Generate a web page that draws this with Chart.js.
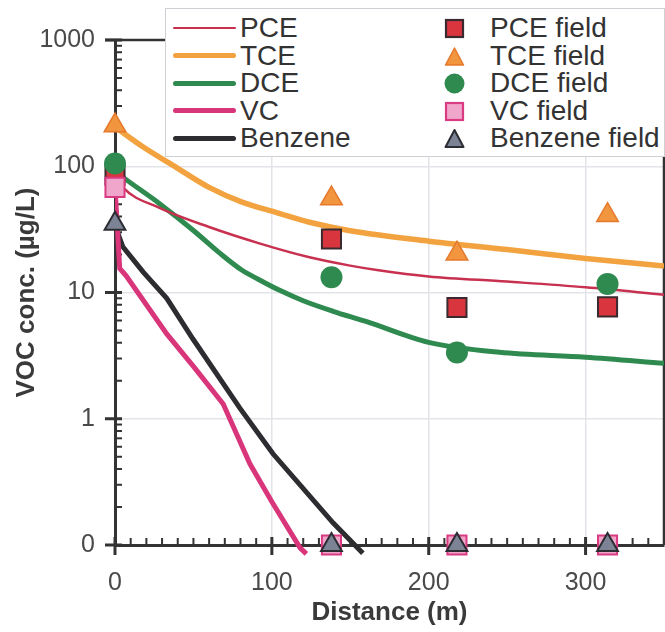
<!DOCTYPE html>
<html>
<head>
<meta charset="utf-8">
<script src="https://cdn.jsdelivr.net/npm/chart.js@4.4.1/dist/chart.umd.min.js"></script>
<style>
  html, body { margin: 0; padding: 0; background: #fff; }
  #wrap { position: relative; width: 665px; height: 632px; }
  #legend {
    position: absolute; left: 165px; top: 8px; width: 500px; height: 149px;
    box-sizing: border-box; background: #fff; border: 1.5px solid #cfcfd6;
    font-family: "Liberation Sans", Arial, sans-serif; font-size: 28px; color: #333;
  }
  .item { position: absolute; height: 28px; line-height: 28px; white-space: nowrap; }
  .swatch { position: absolute; left: 7px; width: 63px; border-radius: 3px; }
</style>
</head>
<body>
<div id="wrap">
  <canvas id="chart" width="665" height="632"></canvas>
  <div id="legend"></div>
</div>
<script>
// Axis ticks (0 on the log axis is drawn at the bottom decade, 0.1)
const yTicks = [0.1, 1, 10, 100, 1000];
const xTicks = [0, 100, 200, 300];

// Field samples (0 = not detected)
const fieldDist = [0, 138, 218, 314];
const pceField = [85, 26.5, 7.6, 7.7];
const tceField = [210, 55.5, 20.3, 41];
const dceField = [105, 13.2, 3.35, 11.7];
const vcField = [68, 0, 0, 0];
const benzField = [35, 0, 0, 0];

// Model curves
const pceDist = [0, 5, 28, 60, 92, 124, 149, 168, 200, 250, 300, 350];
const pceModel = [85, 68, 47, 33, 24.5, 19, 16.4, 15, 13.4, 12.2, 11, 9.6];
const tceDist = [0, 18, 39, 60, 81, 103, 124, 149, 200, 250, 300, 350];
const tceModel = [205, 142, 98, 68, 52, 43, 36, 31, 25.5, 21.9, 18.6, 16.2];
const dceDist = [0, 5, 28, 50, 67, 81, 90, 105, 120, 139, 160, 200, 245, 300, 350];
const dceModel = [92, 82, 51, 31, 20.4, 15, 13, 10.4, 8.6, 7.1, 5.9, 4.03, 3.36, 3.07, 2.75];
const vcDist = [0, 3, 7, 33, 50, 69, 86, 100, 118, 122];
const vcModel = [68, 15.5, 13.6, 4.7, 2.6, 1.31, 0.44, 0.22, 0.095, 0.085];
const benzDist = [0, 5, 18, 33, 49.6, 79.5, 100.6, 139, 158];
const benzModel = [34, 23, 14.5, 9, 4.3, 1.22, 0.53, 0.15, 0.086];

const yMin = yTicks[0], yMax = yTicks[yTicks.length - 1];
const pts = (xs, ys) => xs.map((x, i) => ({ x: x, y: ys[i] === 0 ? yMin : ys[i] }));

const FONT = '"Liberation Sans", Arial, sans-serif';

function lineSet(label, xs, ys, color, width, smooth) {
  return {
    label: label, data: pts(xs, ys), showLine: true, borderColor: color,
    borderWidth: width, pointRadius: 0, order: 1,
    cubicInterpolationMode: smooth ? 'monotone' : 'default',
    clip: { left: 0, top: 0, right: 0, bottom: 15 }
  };
}
function fieldSet(label, ys, style, fill, stroke, radius, bw) {
  return {
    label: label, data: pts(fieldDist, ys), pointStyle: style,
    backgroundColor: fill, borderColor: stroke, pointRadius: radius,
    pointBorderWidth: bw, showLine: false, order: 0, clip: false
  };
}

const datasets = [
  fieldSet('DCE field', dceField, 'circle', '#2f8a50', '#2f8a50', 11, 0),
  fieldSet('TCE field', tceField, 'triangle', '#f1963f', '#e5792c', 12.5, 1.5),
  fieldSet('Benzene field', benzField, 'triangle', '#7b8394', '#2c2c33', 12, 2),
  fieldSet('VC field', vcField, 'rect', '#f0a6cb', '#da3a82', 13.5, 2),
  fieldSet('PCE field', pceField, 'rect', '#d8353f', '#3a2a2f', 13.5, 2),
  lineSet('PCE', pceDist, pceModel, '#c8304f', 2.5, true),
  lineSet('TCE', tceDist, tceModel, '#f2a33f', 5.5, true),
  lineSet('DCE', dceDist, dceModel, '#2e8a4f', 5, true),
  lineSet('VC', vcDist, vcModel, '#d8357a', 5, false),
  lineSet('Benzene', benzDist, benzModel, '#2d2d31', 5, false)
];

// axis frame, top/right border and inside minor ticks
const framePlugin = {
  id: 'frame',
  beforeDatasetsDraw(chart) {
    const { ctx, chartArea: a, scales: { x, y } } = chart;
    const seg = (x1, y1, x2, y2) => { ctx.beginPath(); ctx.moveTo(x1, y1); ctx.lineTo(x2, y2); ctx.stroke(); };
    ctx.save();
    ctx.strokeStyle = '#333';
    ctx.lineWidth = 2.5;
    seg(a.left - 10, a.top, a.right, a.top);
    seg(a.right, a.top, a.right, a.bottom);
    ctx.lineWidth = 3;
    yTicks.forEach(v => { const p = y.getPixelForValue(v); seg(a.left - 10, p, a.left + 7, p); });
    xTicks.forEach(v => { const p = x.getPixelForValue(v); seg(p, a.bottom - 8, p, a.bottom + 10); });
    ctx.lineWidth = 2;
    for (let d = yMin; d < yMax * 0.99; d *= 10) {
      for (let m = 2; m <= 9; m++) { const p = y.getPixelForValue(d * m); seg(a.left, p, a.left + 7, p); }
    }
    for (let v = 10; v < x.max; v += 10) {
      if (v % 100 === 0) continue;
      const p = x.getPixelForValue(v); seg(p, a.bottom, p, a.bottom - 7);
    }
    ctx.restore();
  }
};

const chart = new Chart(document.getElementById('chart'), {
  type: 'scatter',
  data: { datasets: datasets },
  options: {
    responsive: false,
    animation: false,
    layout: { autoPadding: false, padding: { top: 40, right: 1, left: 0, bottom: 0 } },
    plugins: { legend: { display: false }, tooltip: { enabled: false } },
    scales: {
      x: {
        type: 'linear', min: 0, max: 350,
        afterBuildTicks: s => { s.ticks = xTicks.map(v => ({ value: v })); },
        afterFit: s => { s.height = 87; s.paddingLeft = 0; s.paddingRight = 0; },
        grid: { color: ctx => ctx.tick && ctx.tick.value === 0 ? 'rgba(0,0,0,0)' : '#e3e3ea', lineWidth: 1.5, drawTicks: false },
        border: { color: '#333', width: 3 },
        ticks: { padding: 23, color: '#4a4a4a', font: { family: FONT, size: 25 } },
        title: { display: true, text: 'Distance (m)', color: '#3a3a3a',
          font: { family: FONT, size: 26, weight: 'bold' }, padding: { top: 0, bottom: 4 } }
      },
      y: {
        type: 'logarithmic', min: yMin, max: yMax,
        afterBuildTicks: s => { s.ticks = yTicks.map(v => ({ value: v, major: true })); },
        afterFit: s => { s.width = 115; s.paddingTop = 0; s.paddingBottom = 0; },
        grid: { color: ctx => ctx.tick && (ctx.tick.value === yMin || ctx.tick.value === yMax) ? 'rgba(0,0,0,0)' : '#e3e3ea', lineWidth: 1.5, drawTicks: false },
        border: { color: '#333', width: 3 },
        ticks: { padding: 20, color: '#4a4a4a', font: { family: FONT, size: 25 },
          callback: v => v === yMin ? '0' : String(v) },
        title: { display: true, text: 'VOC conc. (µg/L)', color: '#3a3a3a',
          font: { family: FONT, size: 26, weight: 'bold' }, padding: { top: 11 } }
      }
    }
  },
  plugins: [framePlugin]
});

// two-column legend: model lines left, field markers right
const legendLines = ['PCE', 'TCE', 'DCE', 'VC', 'Benzene'];
const legendField = ['PCE field', 'TCE field', 'DCE field', 'VC field', 'Benzene field'];
const legend = document.getElementById('legend');
const byLabel = l => datasets.find(d => d.label === l);

function markerSvg(ds) {
  const f = ds.backgroundColor, s = ds.borderColor;
  let shape;
  if (ds.pointStyle === 'rect') shape = `<rect x="2" y="2" width="17" height="17" fill="${f}" stroke="${s}" stroke-width="2.2"/>`;
  else if (ds.pointStyle === 'triangle') shape = `<polygon points="10.5,2 19.5,19 1.5,19" fill="${f}" stroke="${s}" stroke-width="${ds.pointBorderWidth}" stroke-linejoin="round"/>`;
  else shape = `<circle cx="10.5" cy="10.5" r="10" fill="${f}"/>`;
  return `<svg width="21" height="21" style="position:absolute;left:-10px;top:4px">${shape}</svg>`;
}

legendLines.forEach((l, i) => {
  const ds = byLabel(l);
  const top = 5 + i * 27.5;
  const sw = document.createElement('div');
  sw.className = 'swatch';
  sw.style.top = (top + 14 - ds.borderWidth / 2) + 'px';
  sw.style.height = ds.borderWidth + 'px';
  sw.style.background = ds.borderColor;
  legend.appendChild(sw);
  const t = document.createElement('div');
  t.className = 'item';
  t.style.left = '74px'; t.style.top = top + 'px';
  t.textContent = l;
  legend.appendChild(t);
});
legendField.forEach((l, i) => {
  const ds = byLabel(l);
  const top = 5 + i * 27.5;
  const m = document.createElement('div');
  m.className = 'item';
  m.style.left = '288px'; m.style.top = top + 'px';
  m.innerHTML = markerSvg(ds);
  legend.appendChild(m);
  const t = document.createElement('div');
  t.className = 'item';
  t.style.left = '324px'; t.style.top = top + 'px';
  t.textContent = l;
  legend.appendChild(t);
});
</script>
</body>
</html>
